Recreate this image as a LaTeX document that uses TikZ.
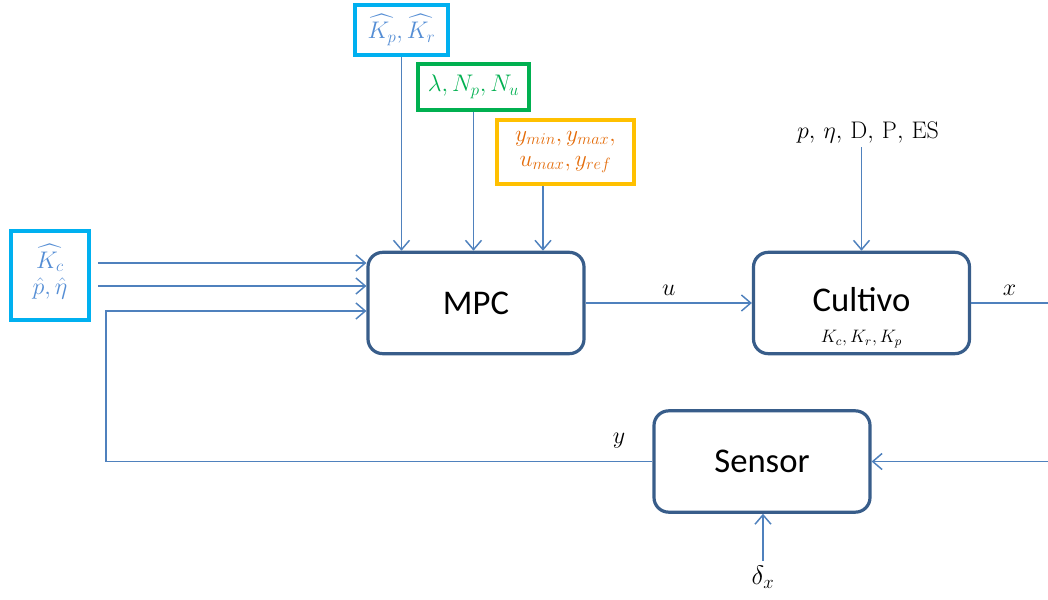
\RequirePackage{fix-cm}
\documentclass[tikz,border=0pt]{standalone}
\usepackage{amsmath}
\usepackage{fontspec}
\setsansfont{Carlito}
\usetikzlibrary{positioning,arrows.meta,calc}

\definecolor{lineblue}{RGB}{79,129,189}
\definecolor{boxblue}{RGB}{56,93,138}
\definecolor{skyblue}{RGB}{0,176,240}
\definecolor{parmgreen}{RGB}{0,176,80}
\definecolor{parmyellow}{RGB}{255,192,0}
\definecolor{textorange}{RGB}{228,108,10}
\definecolor{textblue}{RGB}{85,142,213}

\begin{document}
\begin{tikzpicture}[
            x=0.75pt, y=-0.75pt,
            block/.style={
                draw=boxblue, line width=2.4pt, rounded corners=11pt, fill=white, minimum width=162pt, minimum height=76pt, font=\sffamily\fontsize{26}{30}\selectfont
            },
            parm/.style={
                draw, line width=3pt, fill=white, inner sep=2pt, align=center, font=\fontsize{18}{22}\selectfont
            },
            sig/.style={
                draw=lineblue, line width=1.1pt, -{Straight Barb[length=7pt,width=12pt]}
            },
            lbl/.style={
                font=\fontsize{18}{22}\selectfont
            }
        ]
            \useasboundingbox (0,0) rectangle (1048,599);

            % BLOQUES PRINCIPALES
            \node[block] (mpc) at (476,303) {MPC};
            \node[block] (cultivo) at (861.5,303) {};
            \node[font=\sffamily\fontsize{26}{30}\selectfont] (cultivotxt) at (861.5,300) {Cultivo};
            \node[font=\fontsize{13.5}{15}\selectfont, inner sep=1pt] (cultivoparm) at (861.5,339) {$K_c,K_r,K_p$};
            \node[block] (sensor) at (762,461.5) {Sensor};

            % --- PARAMETROS DEL MPC ---
            \node[parm, draw=skyblue, text=textblue, minimum width=69.75pt, minimum height=37.5pt] (kpkr) at (401.5,30) {$\widehat{K_p},\widehat{K_r}$};
            \node[parm, draw=parmgreen, text=parmgreen, minimum width=83.25pt, minimum height=34.5pt] (lambda) at (473.5,87) {$\lambda,N_p,N_u$};
            \node[parm, draw=parmyellow, text=textorange, minimum width=102.75pt, minimum height=48pt, font=\fontsize{17.5}{19}\selectfont] (ylims) at (565.5,152) {$y_{min},y_{max},$\\$u_{max},y_{ref}$};
            \node[parm, draw=skyblue, minimum width=58.5pt, minimum height=66.75pt] (kc) at (50,275.5) {};
            % texto del recuadro Kc en dos nodos
            \node[lbl, text=textblue, inner sep=0pt] (kchat) at (50,258) {$\widehat{K_c}$};
            \node[lbl, text=textblue, inner sep=0pt] (pethat) at (50,288) {$\hat{p},\hat{\eta}$};

            % entradas externas
            \node[lbl] (dist) at (868,132) {$p,\,\eta,\,\mathrm{D},\,\mathrm{P},\,\mathrm{ES}$};
            \node[lbl, font=\fontsize{20}{24}\selectfont] (delta) at (763,577) {$\delta_x$};
            \node[lbl] (ylbl) at (619,441) {$y$};

            \coordinate (kca) at ($(kc.east)+(7,-12.5)$);
            \coordinate (kcb) at ($(kc.east)+(7,10.5)$);
            \coordinate (fb) at (106,311);
            \coordinate (xout) at (1048,303);
            \coordinate (xin) at (1048,461.5);

            % FLECHAS HACIA EL MPC
            \draw[sig] (kpkr) -- (kpkr |- mpc.north);
            \draw[sig] (lambda) -- (lambda |- mpc.north);
            \draw[sig] ($(ylims.south)+(-22.5,0)$) -- ($(ylims.south |- mpc.north)+(-22.5,0)$);
            \draw[sig] (kca) -- (kca -| mpc.west);
            \draw[sig] (kcb) -- (kcb -| mpc.west);
            \draw[sig] (sensor.west) -| (fb) -- (fb -| mpc.west);

            % LAZO DE LA PLANTA
            \draw[sig] (mpc) -- (cultivo) node[midway, above=2pt, lbl] {$u$};
            \draw[lineblue, line width=1.1pt] (cultivo.east) -- (xout) node[midway, above=2pt, lbl, text=black] {$x$};
            \draw[sig] (dist.south -| cultivo.north) -- (cultivo.north);
            \draw[sig] (xin) -- (sensor.east);
            \draw[sig] (delta.north) -- (delta.north |- sensor.south);

        \end{tikzpicture}
\end{document}
